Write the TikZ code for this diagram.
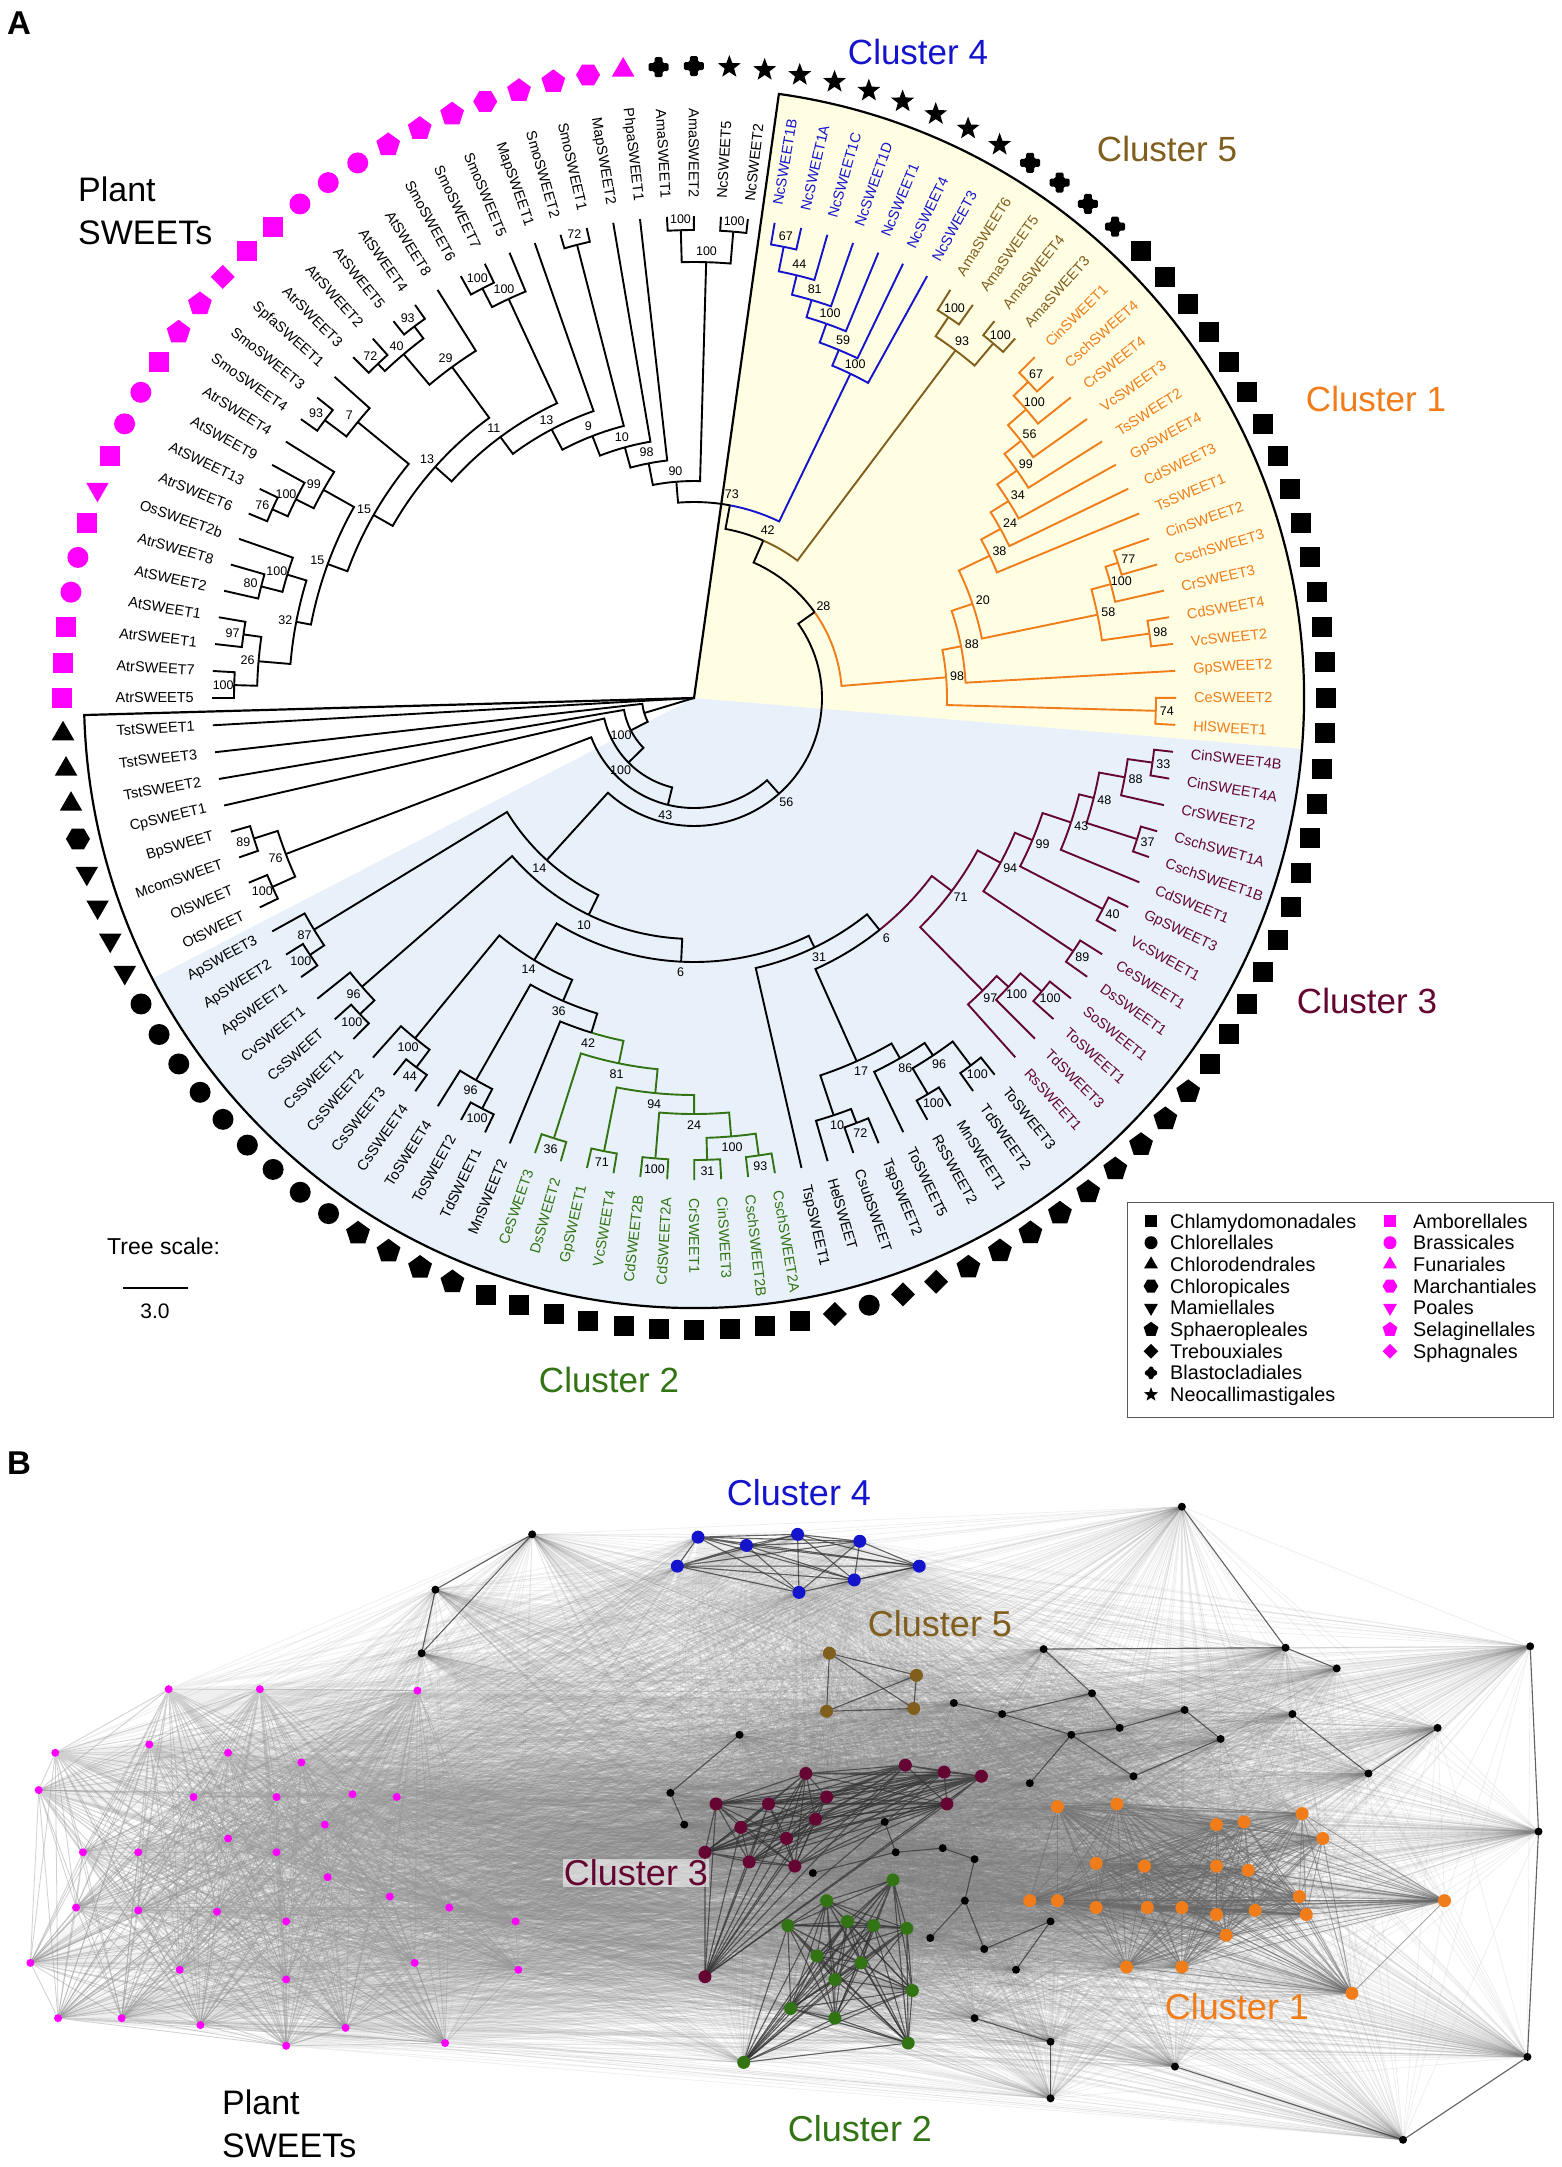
\documentclass[tikz,border=0pt]{standalone}
\usepackage{fontspec}
\setmainfont{Liberation Sans}
\definecolor{cB}{RGB}{20,20,205}
\definecolor{cBr}{RGB}{128,94,30}
\definecolor{cO}{RGB}{240,125,25}
\definecolor{cM}{RGB}{100,5,50}
\definecolor{cG}{RGB}{50,115,20}
\definecolor{mag}{RGB}{255,0,255}
\definecolor{yel}{RGB}{255,253,226}
\definecolor{blu}{RGB}{232,241,249}
\tikzset{
 br/.style={line width=1.9pt},
 bs/.style={font=\fontsize{12.5}{14}\selectfont, inner sep=0.5pt},
 leaflab/.style={font=\fontsize{14.5}{16}\selectfont, inner sep=0pt},
 clab/.style={font=\fontsize{35}{40}\selectfont, inner sep=1pt},
 symSq/.pic={\fill (-10pt,-10pt) rectangle (10pt,10pt);},
 symCi/.pic={\fill (0,0) circle[radius=10.5pt];},
 symTu/.pic={\fill (90:13pt) -- (210:13pt) -- (330:13pt) -- cycle;},
 symTd/.pic={\fill (270:13pt) -- (30:13pt) -- (150:13pt) -- cycle;},
 symPe/.pic={\fill (90:12.5pt) -- (162:12.5pt) -- (234:12.5pt) -- (306:12.5pt) -- (18:12.5pt) -- cycle;},
 symHx/.pic={\fill (0:12pt) -- (60:12pt) -- (120:12pt) -- (180:12pt) -- (240:12pt) -- (300:12pt) -- cycle;},
 symDi/.pic={\fill (0,12pt) -- (12pt,0) -- (0,-12pt) -- (-12pt,0) -- cycle;},
 symSt/.pic={\fill (90:12pt)--(126:5pt)--(162:12pt)--(198:5pt)--(234:12pt)--(270:5pt)--(306:12pt)--(342:5pt)--(18:12pt)--(54:5pt)--cycle;},
 symCr/.pic={\fill[rounded corners=1.5pt] (-10pt,-4pt) -- (-4pt,-4pt) -- (-4pt,-10pt) -- (4pt,-10pt) -- (4pt,-4pt) -- (10pt,-4pt) -- (10pt,4pt) -- (4pt,4pt) -- (4pt,10pt) -- (-4pt,10pt) -- (-4pt,4pt) -- (-10pt,4pt) -- cycle;},
 cloud/.style={draw=gray, line width=0.8pt, opacity=0.12},
 plantE/.style={draw=gray!80, line width=0.8pt, opacity=0.35},
 darkE/.style={draw=black!80, line width=1.1pt, opacity=0.75},
 oranE/.style={draw=black!60, line width=0.9pt, opacity=0.5},
 pk/.style={circle, fill=mag, inner sep=0pt, minimum size=8pt},
 nbl/.style={circle, fill=cB, inner sep=0pt, minimum size=13pt},
 nbr/.style={circle, fill=cBr, inner sep=0pt, minimum size=13pt},
 nma/.style={circle, fill=cM, inner sep=0pt, minimum size=13pt},
 ngr/.style={circle, fill=cG, inner sep=0pt, minimum size=13pt},
 nor/.style={circle, fill=cO, inner sep=0pt, minimum size=13pt},
 nbk/.style={circle, fill=black, inner sep=0pt, minimum size=8pt},
}
% leaf: index, label, text colour, symbol pic, symbol colour
\newcommand\lf[5]{%
 \pgfmathsetmacro\lang{180-3.214*#1}%
 \expandafter\xdef\csname A@L#1\endcsname{\lang}%
 \expandafter\xdef\csname R@L#1\endcsname{482}%
 \expandafter\xdef\csname C@L#1\endcsname{#3}%
 \pgfmathtruncatemacro\lflip{(\lang>90||\lang<-90)?1:0}%
 \ifnum\lflip=1
   \pgfmathsetmacro\lrot{\lang-180}%
   \node[leaflab,text=#3,anchor=east,rotate=\lrot] (lab#1) at (\lang:500pt) {#2};%
 \else
   \node[leaflab,text=#3,anchor=west,rotate=\lang] (lab#1) at (\lang:500pt) {#2};%
 \fi
 \pic[color=#5] at (\lang:632pt) {#4};%
}
% internal node: id, radius, colour, child1, child2, bootstrap
\newcommand\nd[6]{%
 \edef\tA{\csname A@#4\endcsname}\edef\tB{\csname A@#5\endcsname}%
 \edef\rA{\csname R@#4\endcsname}\edef\rB{\csname R@#5\endcsname}%
 \edef\cA{\csname C@#4\endcsname}\edef\cBB{\csname C@#5\endcsname}%
 \pgfmathsetmacro\tN{(\tA+\tB)/2}%
 \expandafter\xdef\csname A@#1\endcsname{\tN}%
 \expandafter\xdef\csname R@#1\endcsname{#2}%
 \expandafter\xdef\csname C@#1\endcsname{#3}%
 \draw[br,\cA] (\tN:#2pt) arc[start angle=\tN, end angle=\tA, radius=#2pt] -- (\tA:\rA pt);%
 \draw[br,\cBB] (\tN:#2pt) arc[start angle=\tN, end angle=\tB, radius=#2pt] -- (\tB:\rB pt);%
 \pgfmathsetmacro\rL{#2+11}%
 \node[bs] (bs#1) at (\tN:\rL pt) {#6};%
}
\newcommand\allpairs[3]{%
 \pgfmathtruncatemacro\ue{#2-1}%
 \foreach \i in {#1,...,\ue}{%
   \pgfmathtruncatemacro\jn{\i+1}%
   \draw[#3] \foreach \j in {\jn,...,#2}{(n\i.center) -- (n\j.center)};}%
}
\begin{document}
\begin{tikzpicture}[x=1pt,y=-1pt]
\useasboundingbox (0,0) rectangle (1562,2167);
\fill[white] (0,0) rectangle (1562,2167);
\node[anchor=north west, inner sep=0pt, font=\fontsize{33}{36}\selectfont\bfseries] (lA) at (7,12) {A};
\node[anchor=north west, inner sep=0pt, font=\fontsize{33}{36}\selectfont\bfseries] (lB) at (7,1452) {B};

% ---------------- Panel A : tree ----------------
\begin{scope}[shift={(694,698)}, y=1pt]
\fill[yel] (0,0) -- (82:610pt) arc[start angle=82, end angle=-4.8, radius=610pt] -- cycle;
\fill[blu] (0,0) -- (-4.8:610pt) arc[start angle=-4.8, end angle=-152.6, radius=610pt] -- cycle;
\draw[line width=2.2pt] (0,0) -- (82:610pt) arc[start angle=82, end angle=-178.4, radius=610pt] -- cycle;

\lf{0}{AtrSWEET5}{black}{symSq}{mag}
\lf{1}{AtrSWEET7}{black}{symSq}{mag}
\lf{2}{AtrSWEET1}{black}{symSq}{mag}
\lf{3}{AtSWEET1}{black}{symCi}{mag}
\lf{4}{AtSWEET2}{black}{symCi}{mag}
\lf{5}{AtrSWEET8}{black}{symSq}{mag}
\lf{6}{OsSWEET2b}{black}{symTd}{mag}
\lf{7}{AtrSWEET6}{black}{symSq}{mag}
\lf{8}{AtSWEET13}{black}{symCi}{mag}
\lf{9}{AtSWEET9}{black}{symCi}{mag}
\lf{10}{AtrSWEET4}{black}{symSq}{mag}
\lf{11}{SmoSWEET4}{black}{symPe}{mag}
\lf{12}{SmoSWEET3}{black}{symPe}{mag}
\lf{13}{SpfaSWEET1}{black}{symDi}{mag}
\lf{14}{AtrSWEET3}{black}{symSq}{mag}
\lf{15}{AtrSWEET2}{black}{symSq}{mag}
\lf{16}{AtSWEET5}{black}{symCi}{mag}
\lf{17}{AtSWEET4}{black}{symCi}{mag}
\lf{18}{AtSWEET8}{black}{symCi}{mag}
\lf{19}{SmoSWEET6}{black}{symPe}{mag}
\lf{20}{SmoSWEET7}{black}{symPe}{mag}
\lf{21}{SmoSWEET5}{black}{symPe}{mag}
\lf{22}{MapSWEET1}{black}{symHx}{mag}
\lf{23}{SmoSWEET2}{black}{symPe}{mag}
\lf{24}{SmoSWEET1}{black}{symPe}{mag}
\lf{25}{MapSWEET2}{black}{symHx}{mag}
\lf{26}{PhpaSWEET1}{black}{symTu}{mag}
\lf{27}{AmaSWEET1}{black}{symCr}{black}
\lf{28}{AmaSWEET2}{black}{symCr}{black}
\lf{29}{NcSWEET5}{black}{symSt}{black}
\lf{30}{NcSWEET2}{black}{symSt}{black}
\lf{31}{NcSWEET1B}{cB}{symSt}{black}
\lf{32}{NcSWEET1A}{cB}{symSt}{black}
\lf{33}{NcSWEET1C}{cB}{symSt}{black}
\lf{34}{NcSWEET1D}{cB}{symSt}{black}
\lf{35}{NcSWEET1}{cB}{symSt}{black}
\lf{36}{NcSWEET4}{cB}{symSt}{black}
\lf{37}{NcSWEET3}{cB}{symSt}{black}
\lf{38}{AmaSWEET6}{cBr}{symCr}{black}
\lf{39}{AmaSWEET5}{cBr}{symCr}{black}
\lf{40}{AmaSWEET4}{cBr}{symCr}{black}
\lf{41}{AmaSWEET3}{cBr}{symCr}{black}
\lf{42}{CinSWEET1}{cO}{symSq}{black}
\lf{43}{CschSWEET4}{cO}{symSq}{black}
\lf{44}{CrSWEET4}{cO}{symSq}{black}
\lf{45}{VcSWEET3}{cO}{symSq}{black}
\lf{46}{TsSWEET2}{cO}{symSq}{black}
\lf{47}{GpSWEET4}{cO}{symSq}{black}
\lf{48}{CdSWEET3}{cO}{symSq}{black}
\lf{49}{TsSWEET1}{cO}{symSq}{black}
\lf{50}{CinSWEET2}{cO}{symSq}{black}
\lf{51}{CschSWEET3}{cO}{symSq}{black}
\lf{52}{CrSWEET3}{cO}{symSq}{black}
\lf{53}{CdSWEET4}{cO}{symSq}{black}
\lf{54}{VcSWEET2}{cO}{symSq}{black}
\lf{55}{GpSWEET2}{cO}{symSq}{black}
\lf{56}{CeSWEET2}{cO}{symSq}{black}
\lf{57}{HlSWEET1}{cO}{symSq}{black}
\lf{58}{CinSWEET4B}{cM}{symSq}{black}
\lf{59}{CinSWEET4A}{cM}{symSq}{black}
\lf{60}{CrSWEET2}{cM}{symSq}{black}
\lf{61}{CschSWET1A}{cM}{symSq}{black}
\lf{62}{CschSWEET1B}{cM}{symSq}{black}
\lf{63}{CdSWEET1}{cM}{symSq}{black}
\lf{64}{GpSWEET3}{cM}{symSq}{black}
\lf{65}{VcSWEET1}{cM}{symSq}{black}
\lf{66}{CeSWEET1}{cM}{symSq}{black}
\lf{67}{DsSWEET1}{cM}{symSq}{black}
\lf{68}{SoSWEET1}{cM}{symPe}{black}
\lf{69}{ToSWEET1}{cM}{symPe}{black}
\lf{70}{TdSWEET3}{cM}{symPe}{black}
\lf{71}{RsSWEET1}{cM}{symPe}{black}
\lf{72}{ToSWEET3}{black}{symPe}{black}
\lf{73}{TdSWEET2}{black}{symPe}{black}
\lf{74}{MnSWEET1}{black}{symPe}{black}
\lf{75}{RsSWEET2}{black}{symPe}{black}
\lf{76}{ToSWEET5}{black}{symPe}{black}
\lf{77}{TspSWEET2}{black}{symDi}{black}
\lf{78}{CsubSWEET}{black}{symDi}{black}
\lf{79}{HelSWEET}{black}{symCi}{black}
\lf{80}{TspSWEET1}{black}{symDi}{black}
\lf{81}{CschSWEET2A}{cG}{symSq}{black}
\lf{82}{CschSWEET2B}{cG}{symSq}{black}
\lf{83}{CinSWEET3}{cG}{symSq}{black}
\lf{84}{CrSWEET1}{cG}{symSq}{black}
\lf{85}{CdSWEET2A}{cG}{symSq}{black}
\lf{86}{CdSWEET2B}{cG}{symSq}{black}
\lf{87}{VcSWEET4}{cG}{symSq}{black}
\lf{88}{GpSWEET1}{cG}{symSq}{black}
\lf{89}{DsSWEET2}{cG}{symSq}{black}
\lf{90}{CeSWEET3}{cG}{symSq}{black}
\lf{91}{MnSWEET2}{black}{symPe}{black}
\lf{92}{TdSWEET1}{black}{symPe}{black}
\lf{93}{ToSWEET2}{black}{symPe}{black}
\lf{94}{ToSWEET4}{black}{symPe}{black}
\lf{95}{CsSWEET4}{black}{symCi}{black}
\lf{96}{CsSWEET3}{black}{symCi}{black}
\lf{97}{CsSWEET2}{black}{symCi}{black}
\lf{98}{CsSWEET1}{black}{symCi}{black}
\lf{99}{CsSWEET}{black}{symCi}{black}
\lf{100}{CvSWEET1}{black}{symCi}{black}
\lf{101}{ApSWEET1}{black}{symCi}{black}
\lf{102}{ApSWEET2}{black}{symCi}{black}
\lf{103}{ApSWEET3}{black}{symCi}{black}
\lf{104}{OtSWEET}{black}{symTd}{black}
\lf{105}{OlSWEET}{black}{symTd}{black}
\lf{106}{McomSWEET}{black}{symTd}{black}
\lf{107}{BpSWEET}{black}{symTd}{black}
\lf{108}{CpSWEET1}{black}{symHx}{black}
\lf{109}{TstSWEET2}{black}{symTu}{black}
\lf{110}{TstSWEET3}{black}{symTu}{black}
\lf{111}{TstSWEET1}{black}{symTu}{black}

% plant clade
\nd{p01}{460}{black}{L0}{L1}{100}
\nd{p23}{455}{black}{L2}{L3}{97}
\nd{p26}{437}{black}{p01}{p23}{26}
\nd{p45}{447}{black}{L4}{L5}{80}
\nd{p46}{425}{black}{p45}{L6}{100}
\nd{p32}{405}{black}{p26}{p46}{32}
\nd{p78}{462}{black}{L7}{L8}{76}
\nd{p79}{445}{black}{p78}{L9}{100}
\nd{p99}{425}{black}{p79}{L10}{99}
\nd{p15L}{390}{black}{p32}{p99}{15}
\nd{p1112}{462}{black}{L11}{L12}{93}
\nd{p7}{435}{black}{p1112}{L13}{7}
\nd{p15U}{369}{black}{p15L}{p7}{15}
\nd{p1415}{460}{black}{L14}{L15}{72}
\nd{p1617}{465}{black}{L16}{L17}{93}
\nd{p40}{450}{black}{p1415}{p1617}{40}
\nd{p29}{410}{black}{p40}{L18}{29}
\nd{p13L}{347}{black}{p15U}{p29}{13}
\nd{p1920}{461}{black}{L19}{L20}{100}
\nd{p100b}{440}{black}{p1920}{L21}{100}
\nd{p11}{325}{black}{p13L}{p100b}{11}
\nd{p13u}{304}{black}{p11}{L22}{13}
\nd{p2324}{468}{black}{L23}{L24}{72}
\nd{p9}{281}{black}{p13u}{p2324}{9}
\nd{p10}{260}{black}{p9}{L25}{10}
\nd{p98}{239}{black}{p10}{L26}{98}
\nd{a2728}{468}{black}{L27}{L28}{100}
\nd{a2930}{468}{black}{L29}{L30}{100}
\nd{aAN}{436}{black}{a2728}{a2930}{100}
\nd{p90}{217}{black}{p98}{aAN}{90}
% cluster 4
\nd{b67}{460}{cB}{L31}{L32}{67}
\nd{b44}{435}{cB}{b67}{L33}{44}
\nd{b81}{415}{cB}{b44}{L34}{81}
\nd{b100}{397}{cB}{b81}{L35}{100}
\nd{b59}{377}{cB}{b100}{L36}{59}
\nd{bC4}{360}{cB}{b59}{L37}{100}
\nd{n73}{196}{black}{p90}{bC4}{73}
% cluster 5
\nd{r56}{458}{cBr}{L38}{L39}{100}
\nd{r34}{464}{cBr}{L40}{L41}{100}
\nd{rC5}{435}{cBr}{r56}{r34}{93}
\nd{n42}{172}{black}{n73}{rC5}{42}
% cluster 1
\nd{o67}{460}{cO}{L42}{L43}{67}
\nd{o100}{440}{cO}{o67}{L44}{100}
\nd{o56}{416}{cO}{o100}{L45}{56}
\nd{o99}{395}{cO}{o56}{L46}{99}
\nd{o34}{371}{cO}{o99}{L47}{34}
\nd{o24}{350}{cO}{o34}{L48}{24}
\nd{o38}{328}{cO}{o24}{L49}{38}
\nd{o77}{445}{cO}{L50}{L51}{77}
\nd{o100b}{432}{cO}{o77}{L52}{100}
\nd{o98}{460}{cO}{L53}{L54}{98}
\nd{o58}{412}{cO}{o100b}{o98}{58}
\nd{o20}{294}{cO}{o38}{o58}{20}
\nd{o88}{272}{cO}{o20}{L55}{88}
\nd{o74}{462}{cO}{L56}{L57}{74}
\nd{oC1}{253}{cO}{o88}{o74}{98}
\nd{n28}{148}{black}{n42}{oC1}{28}
% cluster 3
\nd{m33}{463}{cM}{L58}{L59}{33}
\nd{m88}{438}{cM}{m33}{L60}{88}
\nd{m37}{465}{cM}{L61}{L62}{37}
\nd{m48}{412}{cM}{m88}{m37}{48}
\nd{m43}{397}{cM}{m48}{L63}{43}
\nd{m40}{460}{cM}{L64}{L65}{40}
\nd{m99}{367}{cM}{m43}{m40}{99}
\nd{m89}{456}{cM}{L66}{L67}{89}
\nd{m94}{348}{cM}{m99}{m89}{94}
\nd{m100b}{455}{cM}{L68}{L69}{100}
\nd{m100a}{427}{cM}{m100b}{L70}{100}
\nd{m97}{411}{cM}{m100a}{L71}{97}
\nd{mC3}{322}{cM}{m94}{m97}{71}
% black group 17
\nd{k7273}{460}{black}{L72}{L73}{100}
\nd{k7475}{460}{black}{L74}{L75}{100}
\nd{k96}{430}{black}{k7273}{k7475}{96}
\nd{k86}{415}{black}{k96}{L76}{86}
\nd{k7778}{455}{black}{L77}{L78}{72}
\nd{k10}{440}{black}{k7778}{L79}{10}
\nd{k17}{398}{black}{k86}{k10}{17}
\nd{n6R}{297}{black}{mC3}{k17}{6}
\nd{n31}{277}{black}{n6R}{L80}{31}
% cluster 2
\nd{g93}{462}{cG}{L81}{L82}{93}
\nd{g31}{462}{cG}{L83}{L84}{31}
\nd{g100}{440}{cG}{g93}{g31}{100}
\nd{g100d}{462}{cG}{L85}{L86}{100}
\nd{g24}{416}{cG}{g100}{g100d}{24}
\nd{g71}{462}{cG}{L87}{L88}{71}
\nd{g94}{397}{cG}{g24}{g71}{94}
\nd{g36}{462}{cG}{L89}{L90}{36}
\nd{gC2}{373}{cG}{g94}{g36}{81}
\nd{n42g}{350}{black}{gC2}{L91}{42}
\nd{k100t}{462}{black}{L92}{L93}{100}
\nd{k96L}{440}{black}{k100t}{L94}{96}
\nd{n36}{330}{black}{n42g}{k96L}{36}
\nd{k44}{462}{black}{L95}{L96}{44}
\nd{k100cs}{440}{black}{k44}{L97}{100}
\nd{n14L}{307}{black}{n36}{k100cs}{14}
\nd{n6B}{264}{black}{n31}{n14L}{6}
\nd{k100cc}{460}{black}{L98}{L99}{100}
\nd{k96u}{440}{black}{k100cc}{L100}{96}
\nd{n10}{241}{black}{n6B}{k96u}{10}
\nd{k100ap}{462}{black}{L101}{L102}{100}
\nd{k87}{445}{black}{k100ap}{L103}{87}
\nd{n14U}{219}{black}{n10}{k87}{14}
\nd{n56}{128}{black}{n28}{n14U}{56}
\nd{k100ol}{462}{black}{L104}{L105}{100}
\nd{k89}{462}{black}{L106}{L107}{89}
\nd{k76}{437}{black}{k100ol}{k89}{76}
\nd{n43}{110}{black}{n56}{k76}{43}
\nd{nL}{92}{black}{n43}{L108}{100}
\nd{nU}{71}{black}{nL}{L109}{100}
\nd{nX}{52}{black}{nU}{L110}{}
\edef\tX{\csname A@nX\endcsname}\edef\tT{\csname A@L111\endcsname}
\coordinate (root) at (0,0);
\draw[br] (root) -- (\tX:52pt);
\draw[br] (root) -- (\tT:482pt);
\end{scope}

% cluster labels panel A
\node[clab, text=cB] (c4a) at (918,52) {Cluster 4};
\node[clab, text=cBr] (c5a) at (1167,149) {Cluster 5};
\node[clab, text=cO] (c1a) at (1376,399) {Cluster 1};
\node[clab, text=cM] (c3a) at (1367,1001) {Cluster 3};
\node[clab, text=cG] (c2a) at (609,1380) {Cluster 2};
\node[anchor=north west, inner sep=0pt, align=left, font=\fontsize{34}{43}\selectfont] (plA) at (78,177) {Plant\\SWEETs};

% tree scale
\node[anchor=base west, inner sep=0pt, font=\fontsize{23}{26}\selectfont] (tsc) at (107,1254) {Tree scale:};
\coordinate (sb1) at (123,1288); \coordinate (sb2) at (188,1288);
\draw[line width=2pt] (sb1) -- (sb2);
\node[anchor=base, inner sep=0pt, font=\fontsize{21}{24}\selectfont] (tsv) at (155,1318) {3.0};

% legend
\draw[gray!70!black, line width=1pt] (1127,1202) rectangle (1553,1417);
\foreach \nm/\sy [count=\k from 0] in {Chlamydomonadales/symSq,Chlorellales/symCi,Chlorodendrales/symTu,Chloropicales/symHx,Mamiellales/symTd,Sphaeropleales/symPe,Trebouxiales/symDi,Blastocladiales/symCr,Neocallimastigales/symSt}{
  \pic[color=black, scale=0.62] at (1151,1221+21.7*\k) {\sy};
  \node[anchor=base west, inner sep=0pt, font=\fontsize{19.8}{22}\selectfont] (lg\k) at (1170,1228+21.7*\k) {\nm};
}
\foreach \nm/\sy [count=\k from 0] in {Amborellales/symSq,Brassicales/symCi,Funariales/symTu,Marchantiales/symHx,Poales/symTd,Selaginellales/symPe,Sphagnales/symDi}{
  \pic[color=mag, scale=0.62] at (1390,1221+21.7*\k) {\sy};
  \node[anchor=base west, inner sep=0pt, font=\fontsize{19.8}{22}\selectfont] (lh\k) at (1413,1228+21.7*\k) {\nm};
}

% ---------------- Panel B : network ----------------
\begin{scope}[x=1.3823pt, y=-1.3823pt]
\foreach \x/\y/\s [count=\k] in {
122/1222/pk,188/1222/pk,302/1223/pk,40/1268/pk,108/1262/pk,165/1268/pk,218/1275/pk,255/1298/pk,200/1300/pk,287/1300/pk,
28/1295/pk,140/1300/pk,60/1340/pk,100/1340/pk,235/1320/pk,165/1330/pk,200/1340/pk,237/1358/pk,325/1380/pk,55/1380/pk,
100/1382/pk,157/1383/pk,207/1390/pk,282/1372/pk,22/1420/pk,130/1425/pk,207/1432/pk,300/1420/pk,375/1425/pk,42/1460/pk,
88/1460/pk,145/1465/pk,250/1467/pk,322/1478/pk,207/1480/pk,373/1390/pk,
490/1133/nbl,505/1112/nbl,540/1118/nbl,577/1110/nbl,578/1152/nbl,622/1115/nbl,618/1143/nbl,665/1133/nbl,
600/1196/nbr,663/1212/nbr,661/1236/nbr,598/1238/nbr,
583/1283/nma,655/1277/nma,683/1282/nma,710/1285/nma,518/1305/nma,556/1305/nma,598/1300/nma,536/1322/nma,569/1330/nma,590/1316/nma,
510/1340/nma,542/1347/nma,575/1350/nma,685/1305/nma,510/1430/nma,
598/1375/ngr,646/1360/ngr,613/1390/ngr,632/1393/ngr,656/1395/ngr,570/1393/ngr,591/1415/ngr,623/1420/ngr,604/1432/ngr,660/1440/ngr,
572/1453/ngr,604/1460/ngr,538/1492/ngr,657/1478/ngr,
765/1307/nor,808/1305/nor,880/1320/nor,900/1318/nor,942/1312/nor,957/1330/nor,793/1348/nor,828/1350/nor,880/1350/nor,903/1353/nor,
940/1372/nor,745/1375/nor,765/1375/nor,793/1380/nor,830/1380/nor,855/1380/nor,880/1385/nor,908/1382/nor,945/1385/nor,1045/1375/nor,
815/1423/nor,855/1423/nor,887/1400/nor,978/1442/nor,
385/1110/nbk,315/1150/nbk,305/1196/nbk,855/1090/nbk,930/1192/nbk,1107/1191/nbk,755/1193/nbk,967/1207/nbk,775/1255/nbk,725/1240/nbk,
810/1250/nbk,790/1225/nbk,690/1232/nbk,535/1255/nbk,485/1297/nbk,495/1320/nbk,588/1355/nbk,648/1340/nbk,682/1337/nbk,705/1345/nbk,
698/1375/nbk,712/1410/nbk,705/1460/nbk,760/1390/nbk,760/1477/nbk,760/1518/nbk,850/1495/nbk,1015/1548/nbk,1105/1488/nbk,1113/1325/nbk,
883/1258/nbk,820/1285/nbk,990/1283/nbk,1040/1250/nbk,745/1290/nbk,857/1237/nbk,935/1240/nbk,640/1318/nbk,673/1402/nbk,735/1425/nbk}
{\coordinate (n\k) at (\x,\y); \expandafter\xdef\csname NS@\k\endcsname{\s}}
% grey cloud
\foreach \i in {1,...,140}{%
  \pgfmathtruncatemacro\jn{\i+1}%
  \draw[cloud] \foreach \j in {\jn,...,141}{(n\i.center) -- (n\j.center)};}
\allpairs{1}{36}{plantE}
\allpairs{37}{44}{darkE}
\allpairs{45}{48}{darkE}
\allpairs{49}{63}{darkE}
\allpairs{64}{77}{darkE}
\allpairs{78}{101}{oranE}
\foreach \a/\b in {102/103,103/104,102/104,107/131,108/106,108/113,113/112,112/110,110/111,111/113,112/137,137/132,132/133,133/110,136/110,114/111,
115/116,116/117,118/119,119/120,120/121,121/122,122/123,123/125,125/141,124/126,126/127,130/129,131/130,129/128,138/134,134/135,106/109,105/106,140/122,139/119}
  {\draw[darkE] (n\a) -- (n\b);}
\foreach \k in {1,...,141}{\edef\st{\csname NS@\k\endcsname}\node[\st] (m\k) at (n\k) {};}
\end{scope}

\node[clab, text=cB, font=\fontsize{36}{40}\selectfont] (c4b) at (799,1493) {Cluster 4};
\node[clab, text=cBr, font=\fontsize{36}{40}\selectfont] (c5b) at (940,1624) {Cluster 5};
\node[clab, text=cM, font=\fontsize{36}{40}\selectfont, fill=white, fill opacity=0.55, text opacity=1] (c3b) at (636,1873) {Cluster 3};
\node[clab, text=cO, font=\fontsize{36}{40}\selectfont] (c1b) at (1237,2007) {Cluster 1};
\node[clab, text=cG, font=\fontsize{36}{40}\selectfont] (c2b) at (860,2129) {Cluster 2};
\node[anchor=north west, inner sep=0pt, align=left, font=\fontsize{34}{43}\selectfont] (plB) at (222,2090) {Plant\\SWEETs};
\end{tikzpicture}
\end{document}
